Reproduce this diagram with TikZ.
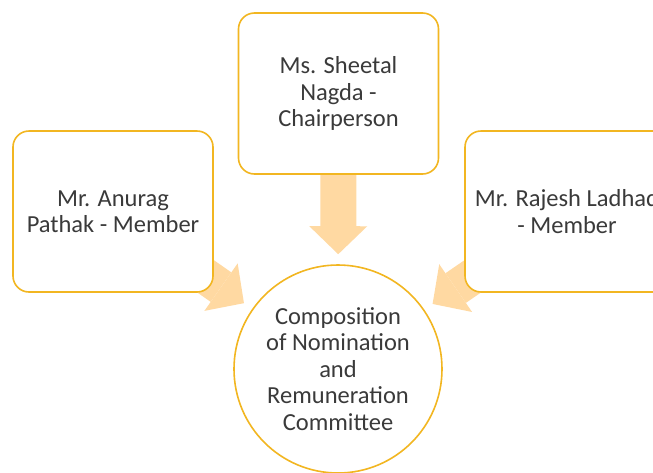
\documentclass[tikz,border=0pt]{standalone}
\usepackage{fontspec}
\setmainfont{Carlito}
\usetikzlibrary{arrows.meta,backgrounds}

\definecolor{boxline}{RGB}{242,182,33}
\definecolor{arrowfill}{RGB}{255,217,162}
\definecolor{textgray}{RGB}{58,58,58}

\tikzset{
  member/.style={draw=boxline, line width=1.6pt, fill=white, rounded corners=16pt,
    minimum width=200pt, minimum height=161pt, align=center, text=textgray,
    font=\fontsize{24.5}{26.5}\selectfont},
  committee/.style={circle, draw=boxline, line width=1.6pt, fill=white, minimum size=208pt,
    inner sep=0pt, align=center, text=textgray, font=\fontsize{24.5}{26.5}\selectfont},
  feed/.style={line width=36pt, color=arrowfill,
    -{Triangle[width=58pt,length=28pt,line width=0pt]}, shorten >=10pt}
}

\begin{document}
\begin{tikzpicture}[x=1pt,y=-1pt]
  \useasboundingbox (0,0) rectangle (653,472);
  \node[member] (chair) at (338.5,93.5) {Ms. Sheetal\\Nagda -\\Chairperson};
  \node[member] (anurag) at (113,211.5) {Mr. Anurag\\Pathak - Member};
  \node[member, minimum width=204pt] (rajesh) at (567,211.5) {Mr. Rajesh Ladhad\\- Member};
  \node[committee] (nrc) at (338,369) {Composition\\of Nomination\\and\\Remuneration\\Committee};
  \begin{scope}[on background layer]
    \path[feed]
      (chair) edge (nrc)
      (anurag.center) edge (nrc)
      (rajesh.center) edge (nrc);
  \end{scope}
\end{tikzpicture}
\end{document}
